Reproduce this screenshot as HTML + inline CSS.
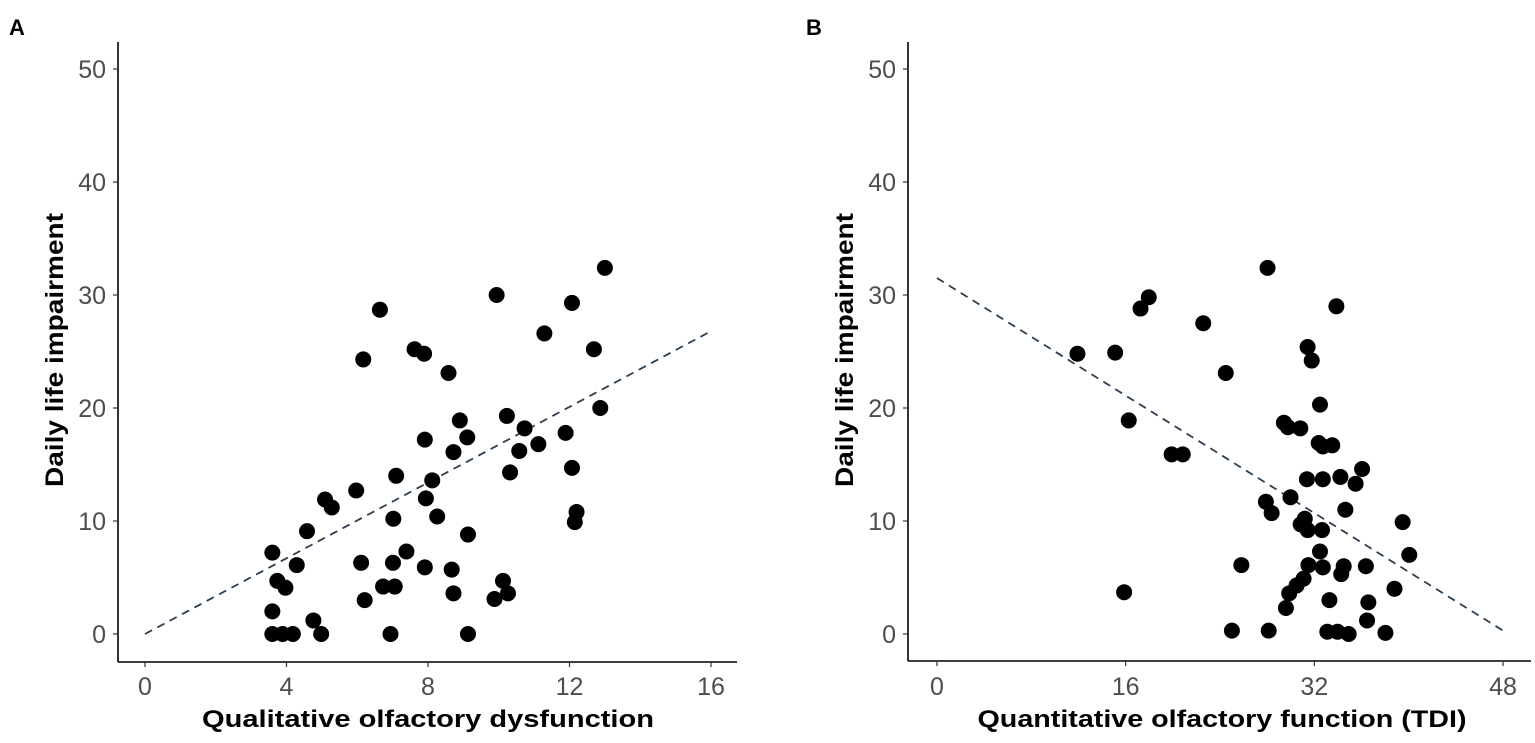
<!DOCTYPE html>
<html><head><meta charset="utf-8"><style>
body{margin:0;background:#fff;}
svg{display:block;font-family:"Liberation Sans",Arial,sans-serif;}
</style></head><body>
<svg id="chart" width="1535" height="743"></svg>
<script>
const aX=[13.0,9.94,12.07,6.64,11.29,7.62,7.89,12.69,6.17,8.58,12.87,10.23,8.90,10.73,11.89,7.91,9.11,11.12,10.58,8.72,12.07,10.32,7.10,8.12,5.97,5.09,5.28,7.94,7.02,8.26,12.2,12.15,4.58,9.13,3.6,7.39,4.29,6.11,7.01,7.91,8.67,3.74,3.97,6.73,7.06,10.12,10.26,8.72,9.88,6.21,3.6,4.76,3.6,3.89,4.18,4.98,6.94,9.13];
const aY=[32.4,30.0,29.3,28.7,26.6,25.2,24.8,25.2,24.3,23.1,20.0,19.3,18.9,18.2,17.8,17.2,17.4,16.8,16.2,16.1,14.7,14.3,14.0,13.6,12.7,11.9,11.2,12.0,10.2,10.4,10.8,9.9,9.1,8.8,7.2,7.3,6.1,6.3,6.3,5.9,5.7,4.7,4.1,4.2,4.2,4.7,3.6,3.6,3.1,3.0,2.0,1.2,0,0,0,0,0,0];
const bX=[28.03,17.96,17.26,33.87,22.58,11.91,15.11,31.43,31.78,24.49,32.48,16.26,29.42,29.76,30.81,32.37,32.72,33.52,19.9,20.84,36.05,31.37,32.72,34.21,35.5,29.98,27.89,28.38,34.63,31.19,30.84,31.43,32.65,39.49,32.48,40.05,25.81,31.5,32.72,34.49,34.28,36.37,31.09,30.5,29.87,15.87,38.8,33.28,36.58,29.59,36.47,25.01,28.13,33.1,33.97,34.91,38.03];
const bY=[32.4,29.8,28.8,29.0,27.5,24.8,24.9,25.4,24.2,23.1,20.3,18.9,18.7,18.3,18.2,16.9,16.6,16.7,15.9,15.9,14.6,13.7,13.7,13.9,13.3,12.1,11.7,10.7,11.0,10.2,9.7,9.2,9.2,9.9,7.3,7.0,6.1,6.1,5.9,6.0,5.3,6.0,4.9,4.3,3.6,3.7,4.0,3.0,2.8,2.3,1.2,0.3,0.3,0.2,0.2,0,0.1];
const aTrend=[[0,0],[16,26.8]];
const bTrend=[[0,31.5],[48,0.3]];
const aXTicks=[0,4,8,12,16], bXTicks=[0,16,32,48], yTicks=[0,10,20,30,40,50];
const NS="http://www.w3.org/2000/svg";
const svg=document.getElementById('chart');
function mk(t,a,p){const e=document.createElementNS(NS,t);for(const k in a)e.setAttribute(k,a[k]);(p||svg).appendChild(e);return e;}
function panel(cfg){
  const g=mk('g',{});
  
  
  const sx=v=>cfg.x0+(v-cfg.dmin)/(cfg.dmax-cfg.dmin)*(cfg.x1-cfg.x0);
  const sy=v=>634-v/50*(634-69);
  const ax=mk('line',{x1:cfg.ax,y1:42,x2:cfg.ax,y2:cfg.ay,stroke:'#000','stroke-width':1.6},g);
  
  const bx=mk('line',{x1:cfg.ax,y1:cfg.ay,x2:cfg.axEnd,y2:cfg.ay,stroke:'#000','stroke-width':1.6},g);
  
  yTicks.forEach(v=>{
    mk('line',{x1:cfg.ax-5,x2:cfg.ax,y1:sy(v),y2:sy(v),stroke:'#333','stroke-width':1.2},g);
    const t=mk('text',{x:cfg.ax-12,y:sy(v)+9,'text-anchor':'end','font-size':25,fill:'#4d4d4d'},g);
    t.textContent=v;
    
  });
  cfg.xt.forEach(v=>{
    mk('line',{x1:sx(v),x2:sx(v),y1:cfg.ay,y2:cfg.ay+5,stroke:'#333','stroke-width':1.2},g);
    const t=mk('text',{x:sx(v),y:695,'text-anchor':'middle','font-size':25,fill:'#4d4d4d'},g);
    t.textContent=v;
    
  });
  const tl=mk('line',{x1:sx(cfg.tr[0][0]),y1:sy(cfg.tr[0][1]),x2:sx(cfg.tr[1][0]),y2:sy(cfg.tr[1][1]),stroke:'#2c3e50','stroke-width':1.8,'stroke-dasharray':'8,6'},g);
  
  cfg.xs.forEach((v,i)=>{
    const c=mk('circle',{cx:sx(v),cy:sy(cfg.ys[i]),r:8,fill:'#000'},g);
    
    
  });
  const xt=mk('text',{x:cfg.xtX-cfg.xtW/2,y:727,'font-size':24,'font-weight':'bold',fill:'#000',textLength:cfg.xtW,lengthAdjust:'spacingAndGlyphs'},g);
  xt.textContent=cfg.xtitle;
  
  const yt=mk('text',{x:-137,y:0,transform:`translate(${cfg.ytX},350) rotate(-90)`,'font-size':25,'font-weight':'bold',fill:'#000',textLength:274,lengthAdjust:'spacingAndGlyphs'},g);
  yt.textContent='Daily life impairment';
  
  const pl=mk('text',{x:cfg.plX,y:35,'font-size':22,'font-weight':'bold',fill:'#000'},g);
  pl.textContent=cfg.label;
  
}
panel({name:'panel-a',label:'A',plX:9,x0:145,x1:711,dmin:0,dmax:16,ax:118,ay:662,axEnd:737,xt:aXTicks,xs:aX,ys:aY,tr:aTrend,xtitle:'Qualitative olfactory dysfunction',xtX:428,xtW:452,ytX:63});
panel({name:'panel-b',label:'B',plX:806,x0:937,x1:1503,dmin:0,dmax:48,ax:908,ay:661,axEnd:1531,xt:bXTicks,xs:bX,ys:bY,tr:bTrend,xtitle:'Quantitative olfactory function (TDI)',xtX:1222,xtW:489,ytX:853});
</script>
</body></html>
